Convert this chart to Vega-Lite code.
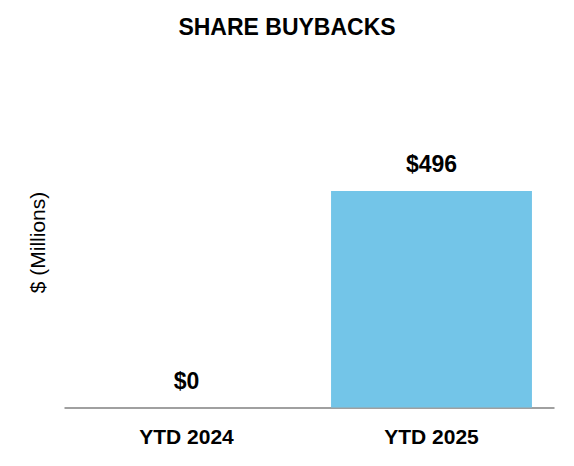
{
  "$schema": "https://vega.github.io/schema/vega-lite/v6.json",
  "autosize": "none",
  "width": 490,
  "height": 305.5,
  "padding": {"left": 64, "top": 102, "right": 20, "bottom": 58.5},
  "background": "white",
  "title": {
    "text": "SHARE BUYBACKS",
    "font": "Liberation Sans",
    "fontSize": 23,
    "fontWeight": "bold",
    "color": "#000000",
    "anchor": "middle",
    "dx": -22,
    "offset": 62
  },
  "data": {
    "values": [
      {"period": "YTD 2024", "value": 0, "label": "$0"},
      {"period": "YTD 2025", "value": 496, "label": "$496"}
    ]
  },
  "encoding": {
    "x": {
      "field": "period",
      "type": "nominal",
      "sort": null,
      "scale": {"paddingInner": 0.18, "paddingOuter": 0.09},
      "axis": {
        "title": null,
        "labelAngle": 0,
        "labelFont": "Liberation Sans",
        "labelFontSize": 21,
        "labelFontWeight": "bold",
        "labelColor": "#000000",
        "labelPadding": 19,
        "ticks": false,
        "domainColor": "#a0a0a0",
        "domainWidth": 2
      }
    },
    "y": {
      "field": "value",
      "type": "quantitative",
      "scale": {"domain": [0, 700], "nice": false},
      "axis": {
        "title": "$ (Millions)",
        "titleFont": "Liberation Sans",
        "titleFontSize": 21,
        "titleFontWeight": "normal",
        "titleColor": "#000000",
        "titlePadding": 16,
        "titleY": 140,
        "labels": false,
        "ticks": false,
        "domain": false,
        "grid": false
      }
    }
  },
  "layer": [
    {"mark": {"type": "bar", "color": "#73C5E8"}},
    {
      "mark": {
        "type": "text",
        "baseline": "bottom",
        "dy": -14,
        "font": "Liberation Sans",
        "fontSize": 23,
        "fontWeight": "bold",
        "color": "#000000"
      },
      "encoding": {"text": {"field": "label"}}
    }
  ],
  "config": {"view": {"stroke": null}}
}
